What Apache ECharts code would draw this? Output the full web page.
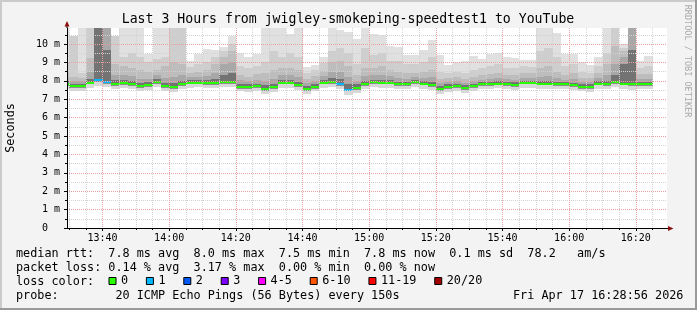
<!DOCTYPE html>
<html><head><meta charset="utf-8">
<script src="https://cdn.jsdelivr.net/npm/echarts@6/dist/echarts.min.js"></script>
<style>html,body{margin:0;padding:0;background:#f3f3f3}#c{width:697px;height:310px}</style>
</head><body><div id="c"></div>
<script>
const MONO = "DejaVu Sans Mono";
// time: minutes after 13:00; step i covers (end-2.5, end], end = 30 + 2.5*i
const firstStepEnd = 30, stepLen = 2.5;
const median = [7.83,7.70,7.70,7.90,8.03,7.95,7.83,7.87,7.83,7.72,7.75,7.95,7.72,7.68,7.83,
7.90,7.90,7.90,7.88,7.92,7.92,7.68,7.65,7.70,7.55,7.67,7.90,7.90,7.78,7.55,
7.68,7.90,7.95,7.85,7.52,7.60,7.83,7.91,7.90,7.90,7.80,7.80,7.92,7.85,7.75,
7.55,7.67,7.72,7.60,7.72,7.80,7.80,7.85,7.80,7.78,7.90,7.90,7.85,7.85,7.80,
7.80,7.75,7.68,7.68,7.85,7.80,7.93,7.85,7.80,7.83,7.80];
const lossCount = [0,0,0,0,1,1,0,0,0,0,0,0,0,0,0,
0,0,0,0,0,0,0,0,0,0,0,0,0,0,0,
0,0,0,1,1,0,0,0,0,0,0,0,0,0,0,
0,0,0,0,0,0,0,0,0,0,0,0,0,0,0,
0,0,0,0,0,0,0,0,0,0,0];
const pMin = [7.55,7.45,7.42,7.62,7.70,7.65,7.58,7.60,7.58,7.45,7.50,7.65,7.45,7.40,7.58,
7.62,7.65,7.62,7.60,7.65,7.65,7.42,7.40,7.45,7.28,7.40,7.62,7.62,7.50,7.30,
7.42,7.62,7.68,7.55,7.25,7.35,7.58,7.65,7.63,7.62,7.55,7.55,7.65,7.58,7.48,
7.28,7.40,7.45,7.35,7.45,7.55,7.55,7.60,7.55,7.52,7.62,7.62,7.58,7.58,7.55,
7.55,7.48,7.42,7.40,7.58,7.55,7.68,7.58,7.52,7.58,7.55];
const p25 = [7.72,7.60,7.60,7.80,7.92,7.85,7.73,7.77,7.73,7.62,7.65,7.84,7.62,7.58,7.73,
7.80,7.80,7.79,7.78,7.82,7.82,7.58,7.55,7.60,7.45,7.57,7.80,7.80,7.68,7.45,
7.58,7.80,7.85,7.74,7.42,7.50,7.73,7.81,7.80,7.80,7.70,7.70,7.82,7.75,7.65,
7.45,7.57,7.62,7.50,7.62,7.70,7.70,7.75,7.70,7.68,7.80,7.80,7.75,7.75,7.70,
7.70,7.65,7.58,7.58,7.75,7.70,7.83,7.75,7.70,7.73,7.70];
const p60 = [8.00,7.85,7.85,8.10,11,9.70,8.05,8.05,8.00,7.90,7.92,8.10,7.90,7.88,8.00,
8.05,8.05,8.05,8.10,8.30,8.40,7.85,7.80,7.85,7.75,7.85,8.05,8.05,7.95,7.70,
7.85,8.05,8.15,8.10,7.80,7.80,8.00,8.05,8.05,8.05,7.95,7.95,8.05,8.00,7.95,
7.70,7.80,7.85,7.75,7.85,7.95,7.95,8.00,7.95,7.92,8.00,8.00,8.00,8.00,7.95,
7.92,7.90,7.80,7.80,8.00,8.00,8.30,8.90,9.70,7.95,7.95];
const p70 = [8.15,8.00,7.98,8.50,11,11,8.30,8.30,8.25,8.10,8.10,8.30,8.15,8.20,8.30,
8.20,8.20,8.25,8.40,8.90,9.00,8.05,8.00,8.05,8.00,8.10,8.30,8.30,8.20,7.90,
8.00,8.25,8.50,8.50,8.20,8.00,8.25,8.30,8.30,8.25,8.15,8.10,8.20,8.15,8.20,
7.90,7.95,8.00,7.90,8.00,8.05,8.10,8.15,8.10,8.05,8.15,8.15,8.20,8.25,8.15,
8.05,8.10,7.95,7.95,8.15,8.30,8.90,9.30,11,8.10,8.10];
const p80 = [8.50,8.20,8.15,9.25,11,11,8.90,8.80,8.70,8.60,8.50,8.57,8.80,9.00,8.90,
8.45,8.50,8.60,8.90,9.30,9.60,8.30,8.20,8.35,8.40,8.60,8.70,8.70,8.60,8.10,
8.25,8.55,9.00,9.10,8.80,8.30,8.70,8.70,8.80,8.60,8.50,8.40,8.45,8.50,8.60,
8.10,8.15,8.20,8.10,8.20,8.30,8.35,8.40,8.30,8.30,8.40,8.40,8.70,8.80,8.50,
8.30,8.40,8.15,8.15,8.40,8.90,9.90,9.60,11,8.35,8.35];
const p90 = [9.00,10.41,8.40,11,11,11,10.41,9.30,9.50,9.30,9.00,9.20,9.30,11,11,
8.75,8.90,9.00,9.30,9.60,10.00,8.80,8.70,8.80,9.00,9.60,9.30,9.50,9.30,8.40,
8.60,8.95,9.60,9.80,9.50,8.90,9.80,9.40,9.50,9.10,9.10,8.90,8.90,9.00,9.30,
8.50,8.45,8.50,8.40,8.60,8.70,8.80,8.90,8.70,8.70,8.80,8.75,9.60,9.80,9.30,
8.80,8.90,8.50,8.45,8.80,9.50,10.90,9.80,11,8.70,8.80];
const pMax = [11,10.41,11,11,11,11,10.41,11,11,11,9.47,11,11,11,11,
9.05,9.44,9.74,9.70,9.86,10.46,9.50,9.27,9.45,11,11,10.90,10.56,10.90,8.76,
8.88,9.30,11,10.74,10.65,10.25,11,10.55,10.47,9.88,9.85,9.42,9.42,9.67,10.23,
9.40,8.86,9.00,9.06,9.33,9.17,9.48,9.52,9.27,9.25,9.13,9.15,11,11,10.60,
9.46,9.45,9.00,8.85,9.30,11,10.90,10.00,11,9.10,9.37];

const xMajor = [40,60,80,100,120,140,160,180,200];
const xMinor = [30,35,45,50,55,65,70,75,85,90,95,105,110,115,125,130,135,145,150,155,165,170,175,185,190,195,205];
const yMajor = [0,1,2,3,4,5,6,7,8,9,10];
const yMinor = [0.5,1.5,2.5,3.5,4.5,5.5,6.5,7.5,8.5,9.5,10.5];
const lossBuckets = [
  {name:'0', lo:0, hi:0, color:'#26ff00'},
  {name:'1', lo:1, hi:1, color:'#00b8ff'},
  {name:'2', lo:2, hi:2, color:'#0059ff'},
  {name:'3', lo:3, hi:3, color:'#7e00ff'},
  {name:'4-5', lo:4, hi:5, color:'#ff00ff'},
  {name:'6-10', lo:6, hi:10, color:'#ff5500'},
  {name:'11-19', lo:11, hi:19, color:'#ff0000'},
  {name:'20/20', lo:20, hi:20, color:'#a10000'}
];
const bandColors = ['#d8d8d8','#8e8e8e','#737373','#a8a8a8','#bdbdbd','#cecece','#e0e0e0'];

const titleText = 'Last 3 Hours from jwigley-smokeping-speedtest1 to YouTube';
const legendLines = [
  'median rtt:  7.8 ms avg  8.0 ms max  7.5 ms min  7.8 ms now  0.1 ms sd  78.2   am/s',
  'packet loss: 0.14 % avg  3.17 % max  0.00 % min  0.00 % now',
  'loss color:',
  'probe:        20 ICMP Echo Pings (56 Bytes) every 150s'
];
const dateText = 'Fri Apr 17 16:28:56 2026';

const stepEnd = i => firstStepEnd + stepLen * i;
const smokeData = median.map((m, i) => [stepEnd(i) - stepLen, stepEnd(i), pMin[i], p25[i], m, p60[i], p70[i], p80[i], p90[i], pMax[i]]);

function clipRect(r, cs) {
  return echarts.graphic.clipRectByRect(r, {x: cs.x, y: cs.y, width: cs.width, height: cs.height});
}
function smokeItem(params, api) {
  const t0 = api.value(0), t1 = api.value(1);
  const v = [2,3,4,5,6,7,8,9].map(k => api.value(k));
  const children = [];
  for (let b = 0; b < 7; b++) {
    if (v[b+1] <= v[b]) continue;
    const a = api.coord([t0, v[b+1]]), c = api.coord([t1, v[b]]);
    const x0 = Math.round(a[0]), x1 = Math.round(c[0]);
    const y0 = Math.round(a[1]), y1 = Math.round(c[1]);
    const r = clipRect({x: x0, y: y0, width: x1 - x0, height: y1 - y0}, params.coordSys);
    if (r) children.push({type:'rect', shape:r, style:{fill: bandColors[b]}});
  }
  return {type:'group', children};
}
function medianItem(params, api) {
  const a = api.coord([api.value(0), api.value(2)]), c = api.coord([api.value(1), api.value(2)]);
  const x0 = Math.round(a[0]), x1 = Math.round(c[0]);
  const r = clipRect({x: x0, y: Math.round(a[1]) - 1, width: x1 - x0, height: 2}, params.coordSys);
  return r ? {type:'rect', shape:r, style:{fill: api.visual('color')}} : null;
}

const series = [{
  type:'custom', name:'smoke', xAxisIndex:0, yAxisIndex:0, z:2, silent:true,
  renderItem: smokeItem, data: smokeData
}];
lossBuckets.forEach(b => {
  series.push({
    type:'custom', name:b.name, xAxisIndex:0, yAxisIndex:0, z:3, silent:true,
    itemStyle:{color:b.color},
    renderItem: medianItem,
    data: median.map((m, i) => [stepEnd(i) - stepLen, stepEnd(i), m, lossCount[i]])
                .filter(d => d[3] >= b.lo && d[3] <= b.hi)
  });
});

const fmtTime = v => { const h = 13 + Math.floor(v / 60), m = v % 60; return h + ':' + (m < 10 ? '0' : '') + m; };
const majorGrid = {show:true, lineStyle:{color:'#eaa0a0', width:1, type:[1,1]}};
const minorGrid = {show:true, lineStyle:{color:'#d2d2d2', width:1, type:[1,1]}};

const chart = echarts.init(document.getElementById('c'), null, {renderer:'canvas'});
function textEl(x, y, text, size, extra, rot) {
  return {
    type:'text', x, y, z:10, silent:true, rotation: rot || 0,
    style:Object.assign({text, fontFamily: MONO, fontSize: size, fill:'#000', align:'left', verticalAlign:'middle'}, extra || {})
  };
}

chart.setOption({
  animation:false,
  backgroundColor:'#f3f3f3',
  textStyle:{fontFamily:MONO},
  grid:{left:67, top:28, width:600, height:200, show:true, backgroundColor:'#ffffff', borderWidth:0, containLabel:false, outerBoundsMode:'none'},
  xAxis:[{
    type:'value', min:29.35, max:209.35, position:'bottom', z:5,
    axisLine:{show:true, lineStyle:{color:'#000', width:1}},
    axisTick:{show:true, length:3, customValues:xMajor, lineStyle:{color:'#000'}},
    axisLabel:{show:true, customValues:xMajor, formatter:fmtTime, margin:5, color:'#000', fontFamily:MONO, fontSize:10},
    splitLine:majorGrid
  },{
    type:'value', min:29.35, max:209.35, position:'bottom', offset:0, z:4,
    axisLine:{show:false},
    axisTick:{show:true, length:2, customValues:xMinor, lineStyle:{color:'#000'}},
    axisLabel:{show:false},
    splitLine:minorGrid
  }],
  yAxis:[{
    type:'value', min:0, max:10.87, position:'left', z:5,
    name:'Seconds', nameLocation:'middle', nameRotate:90, nameGap:50,
    nameTextStyle:{fontFamily:MONO, fontSize:11.8, color:'#000'},
    axisLine:{show:true, lineStyle:{color:'#000', width:1}},
    axisTick:{show:true, length:3, customValues:yMajor, lineStyle:{color:'#000'}},
    axisLabel:{show:true, customValues:yMajor, margin:7, color:'#000', fontFamily:MONO, fontSize:10,
      formatter: v => v === 0 ? '0  ' : v + ' m'},
    splitLine:majorGrid
  },{
    type:'value', min:0, max:10.87, position:'left', offset:0, z:4,
    axisLine:{show:false},
    axisTick:{show:true, length:2, customValues:yMinor, lineStyle:{color:'#000'}},
    axisLabel:{show:false},
    splitLine:minorGrid
  }],
  legend:{
    data: lossBuckets.map(b => b.name), left:108.5, top:275, padding:0,
    icon:'rect', itemWidth:7, itemHeight:7, itemGap:17.8, selectedMode:false,
    itemStyle:{borderColor:'#000', borderWidth:1},
    textStyle:{fontFamily:MONO, fontSize:11.8, color:'#000'}
  },
  series,
  graphic:[
    {type:'rect', silent:true, shape:{x:0, y:0, width:697, height:2}, style:{fill:'#cbcbcb'}},
    {type:'rect', silent:true, shape:{x:0, y:0, width:2, height:310}, style:{fill:'#cbcbcb'}},
    {type:'rect', silent:true, shape:{x:0, y:308, width:697, height:2}, style:{fill:'#999999'}},
    {type:'rect', silent:true, shape:{x:695, y:0, width:2, height:310}, style:{fill:'#999999'}},
    {type:'line', silent:true, z:10, shape:{x1:67, y1:28, x2:67, y2:24}, style:{stroke:'#000', lineWidth:1}},
    {type:'polygon', silent:true, z:10, shape:{points:[[64.5,26.5],[67,21],[69.5,26.5]]}, style:{fill:'#8b1010'}},
    {type:'line', silent:true, z:10, shape:{x1:667, y1:228.5, x2:669, y2:228.5}, style:{stroke:'#000', lineWidth:1}},
    {type:'polygon', silent:true, z:10, shape:{points:[[668,226],[673.5,228.5],[668,231]]}, style:{fill:'#8b1010'}},
    textEl(348, 19.3, titleText, 13.2, {align:'center'}),
    textEl(687, 61, 'RRDTOOL / TOBI OETIKER', 8.5, {align:'center', fill:'#aaaaaa'}, -Math.PI / 2),
    textEl(16, 254, legendLines[0], 11.8),
    textEl(16, 268.3, legendLines[1], 11.8),
    textEl(16, 282, legendLines[2], 11.8),
    textEl(16, 296, legendLines[3], 11.8),
    textEl(513, 296, dateText, 11.8)
  ]
});
</script></body></html>
